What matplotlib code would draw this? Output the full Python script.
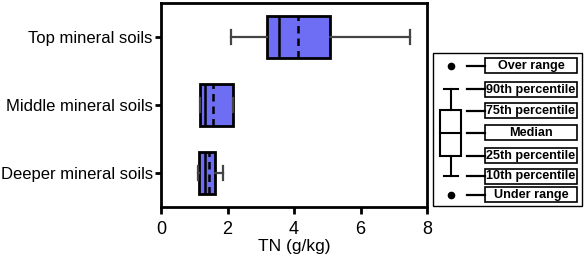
import matplotlib
matplotlib.use("Agg")
import matplotlib.pyplot as plt
from matplotlib.patches import Rectangle

plt.rcParams['font.family'] = ['Liberation Sans', 'DejaVu Sans']

categories = ["Top mineral soils", "Middle mineral soils", "Deeper mineral soils"]
whislo = [2.11, 1.17, 1.10]
q1 = [3.20, 1.17, 1.15]
med = [3.55, 1.31, 1.31]
mean = [4.12, 1.57, 1.43]
q3 = [5.08, 2.18, 1.63]
whishi = [7.48, 2.18, 1.85]
xticks = [0, 2, 4, 6, 8]
legend_labels = ["Over range", "90th percentile", "75th percentile", "Median",
                 "25th percentile", "10th percentile", "Under range"]

W, H = 584, 260
fig = plt.figure(figsize=(W / 100, H / 100), dpi=100)
ax = fig.add_axes([161 / W, 1 - 207 / H, (427 - 161) / W, (207 - 3) / H])

stats = []
for i in range(len(categories)):
    stats.append(dict(label=categories[i], whislo=whislo[i], q1=q1[i], med=med[i],
                      mean=mean[i], q3=q3[i], whishi=whishi[i], fliers=[]))
positions = [2, 1, 0]
ax.bxp(stats, positions=positions, vert=False, widths=0.62, patch_artist=True,
       showmeans=True, meanline=True, showfliers=False,
       boxprops=dict(facecolor='#6e6ef5', edgecolor='black', linewidth=2),
       medianprops=dict(color='black', linewidth=1.8),
       meanprops=dict(color='black', linewidth=1.8, linestyle=(0, (3, 2))),
       whiskerprops=dict(color='#444444', linewidth=1.6),
       capprops=dict(color='#444444', linewidth=1.6),
       capwidths=0.22)

ax.set_xlim(0, 8)
ax.set_ylim(-0.5, 2.5)
ax.set_xticks(xticks)
ax.set_xticklabels([str(t) for t in xticks], fontsize=13)
ax.set_yticks(positions)
ax.set_yticklabels(categories, fontsize=12)
ax.set_xlabel("TN (g/kg)", fontsize=12.5, labelpad=1)
for s in ax.spines.values():
    s.set_linewidth(2)
ax.tick_params(axis='x', direction='out', length=5, width=2, pad=5)
ax.tick_params(axis='y', direction='out', length=4, width=2, pad=2)

# legend explanation panel (drawn in pixel coordinates)
lax = fig.add_axes([0, 0, 1, 1])
lax.set_xlim(0, W)
lax.set_ylim(H, 0)
lax.axis('off')
lax.add_patch(Rectangle((433, 53), 149, 153, fill=False, edgecolor='black', linewidth=1))
rows = [65.5, 89, 110.5, 132.5, 155.5, 176, 194.5]
for y, lab in zip(rows, legend_labels):
    lax.add_patch(Rectangle((485, y - 7.5), 92, 15, fill=False, edgecolor='black', linewidth=1.2))
    lax.plot([467, 485], [y, y], color='black', linewidth=1.6)
    lax.text(531, y + 0.5, lab, ha='center', va='center', fontsize=9.1, fontweight='bold')
lax.plot([451], [rows[0]], 'o', color='black', markersize=4.5)
lax.plot([451], [rows[6]], 'o', color='black', markersize=4.5)
lax.add_patch(Rectangle((440, 110), 21, 46, fill=False, edgecolor='black', linewidth=1.5))
lax.plot([440, 461], [132.5, 132.5], color='black', linewidth=1.5)
lax.plot([451, 451], [89, 110], color='black', linewidth=1.5)
lax.plot([451, 451], [156, 176], color='black', linewidth=1.5)
lax.plot([443.5, 458], [89, 89], color='black', linewidth=1.5)
lax.plot([443.5, 458], [176, 176], color='black', linewidth=1.5)

fig.savefig("out.png", dpi=100)
